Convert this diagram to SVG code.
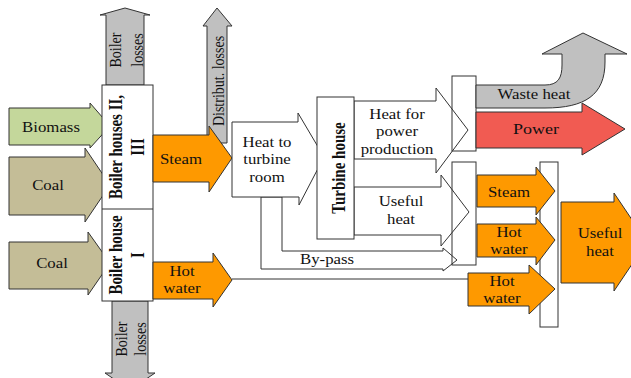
<svg xmlns="http://www.w3.org/2000/svg" width="631" height="378" viewBox="0 0 631 378">
<style>
.s{stroke:#333;stroke-width:1;stroke-linejoin:miter}
.w{fill:#fff}
.g{fill:#c0c0c0}
.o{fill:#fe9900}
.bio{fill:#c4d79b}
.coal{fill:#c4bd97}
.pow{fill:#f15b52}
.nf{fill:none}
text{font-family:"Liberation Serif","Times New Roman",serif;font-size:14px;fill:#111;text-anchor:middle}
.b{font-weight:bold;font-size:15px}
.big{font-size:15px}
</style>
<rect width="631" height="378" fill="#fff"/>
<g id="connectors">
  <path class="s w" d="M261 197 V269 H443 V271 L457 260 L443 248 V251 H282 V197 Z"/>
  <line class="s" x1="232" y1="279" x2="468" y2="279"/>
</g>
<g id="boiler-losses-top">
  <polygon class="s g" points="106,85 106,15 100,15 125,8 150,15 144,15 144,85"/>
  <text transform="translate(121 50) rotate(-90) scale(1 1.2)">Boiler</text>
  <text transform="translate(143 50) rotate(-90) scale(1 1.2)">losses</text>
</g>
<g id="boiler-losses-bottom">
  <polygon class="s g" points="112,301 148,301 148,373 155,373 130,390 105,373 112,373"/>
  <text transform="translate(127 339) rotate(-90) scale(1 1.2)">Boiler</text>
  <text transform="translate(146 339) rotate(-90) scale(1 1.2)">losses</text>
</g>
<g id="distribut-losses">
  <polygon class="s g" points="207,143 207,26 203,26 217,8 232,26 227,26 227,143"/>
  <text transform="translate(224 81) rotate(-90) scale(1 1.2)">Distribut. losses</text>
</g>
<g id="biomass">
  <polygon class="s bio" points="9,108 90,108 90,103 110,126 90,148 90,145 9,145"/>
  <text transform="translate(51 131.5) scale(1.2 1)">Biomass</text>
</g>
<g id="coal1">
  <polygon class="s coal" points="9,157 85,157 85,148 110,185 85,222 85,215 9,215"/>
  <text transform="translate(48 190) scale(1.2 1)">Coal</text>
</g>
<g id="coal2">
  <polygon class="s coal" points="9,242 88,242 88,232 110,263 88,295 88,289 9,289"/>
  <text transform="translate(52 268) scale(1.2 1)">Coal</text>
</g>
<g id="boiler-houses">
  <rect class="s w" x="102" y="85" width="51" height="216"/>
  <line class="s" x1="102" y1="209" x2="153" y2="209"/>
  <text class="b" transform="translate(122 147) rotate(-90) scale(1 1.2)">Boiler houses II,</text>
  <text class="b" transform="translate(144 147) rotate(-90) scale(1 1.2)">III</text>
  <text class="b" transform="translate(122 255) rotate(-90) scale(1 1.2)">Boiler house</text>
  <text class="b" transform="translate(144 255) rotate(-90) scale(1 1.2)">I</text>
</g>
<g id="steam-left">
  <polygon class="s o" points="153,135 209,135 209,126 232,158 209,192 209,182 153,182"/>
  <text transform="translate(181 164) scale(1.2 1)">Steam</text>
</g>
<g id="hotwater-left">
  <polygon class="s o" points="153,262 213,262 213,253 232,280 213,307 213,299 153,299"/>
  <text transform="translate(182 276) scale(1.2 1)">Hot</text>
  <text transform="translate(182 293) scale(1.2 1)">water</text>
</g>
<g id="heat-to-turbine">
  <polygon class="s w" points="232,122 298,122 298,113 324,157 299,205 299,197 232,197"/>
  <text transform="translate(267 147) scale(1.2 1)">Heat to</text>
  <text transform="translate(267 164) scale(1.2 1)">turbine</text>
  <text transform="translate(267 182) scale(1.2 1)">room</text>
</g>
<g id="bypass-label">
  <text transform="translate(327 264) scale(1.2 1)">By-pass</text>
</g>
<g id="heat-for-power">
  <polygon class="s w" points="354,101 436,101 436,88 468,130 436,173 436,159 354,159"/>
  <text transform="translate(397 119) scale(1.2 1)">Heat for</text>
  <text transform="translate(397 136) scale(1.2 1)">power</text>
  <text transform="translate(397 154) scale(1.2 1)">production</text>
</g>
<g id="useful-heat-mid">
  <polygon class="s w" points="354,187 441,187 441,175 469,212 441,246 441,235 354,235"/>
  <text transform="translate(401 206) scale(1.2 1)">Useful</text>
  <text transform="translate(401 224) scale(1.2 1)">heat</text>
</g>
<g id="turbine-house">
  <rect class="s w" x="317" y="97" width="37" height="142"/>
  <text class="b" transform="translate(345 168) rotate(-90) scale(1 1.2)">Turbine house</text>
</g>
<g id="box-upper">
  <rect class="s nf" x="452" y="76" width="24" height="75"/>
</g>
<g id="box-lower">
  <rect class="s nf" x="452" y="162" width="24" height="103"/>
</g>
<g id="waste-heat">
  <path class="s g" d="M476 85 H545 C558 85 562 78 562 65 V54 H542 L583 33 L627 54 H605 V62 C605 95 585 108 545 108 H476 Z"/>
  <text transform="translate(534 99) scale(1.2 1)">Waste heat</text>
</g>
<g id="power">
  <polygon class="s pow" points="476,112 582,112 582,103 625,129 582,155 582,148 476,148"/>
  <text class="big" transform="translate(536 134) scale(1.2 1)">Power</text>
</g>
<g id="collector">
  <rect class="s w" x="540" y="162" width="18" height="165"/>
</g>
<g id="steam-right">
  <polygon class="s o" points="477,175 536,175 536,167 555,191 536,215 536,207 477,207"/>
  <text transform="translate(509 197) scale(1.2 1)">Steam</text>
</g>
<g id="hotwater-right1">
  <polygon class="s o" points="477,224 536,224 536,217 555,240 536,265 536,257 477,257"/>
  <text transform="translate(509 237) scale(1.2 1)">Hot</text>
  <text transform="translate(509 254) scale(1.2 1)">water</text>
</g>
<g id="hotwater-right2">
  <polygon class="s o" points="468,273 529,273 529,265 555,289 529,314 529,306 468,306"/>
  <text transform="translate(502 286) scale(1.2 1)">Hot</text>
  <text transform="translate(502 303) scale(1.2 1)">water</text>
</g>
<g id="useful-heat-out">
  <polygon class="s o" points="561,202 614,202 614,193 647,242 614,291 614,283 561,283"/>
  <text transform="translate(600 238) scale(1.2 1)">Useful</text>
  <text transform="translate(600 256) scale(1.2 1)">heat</text>
</g>
</svg>
